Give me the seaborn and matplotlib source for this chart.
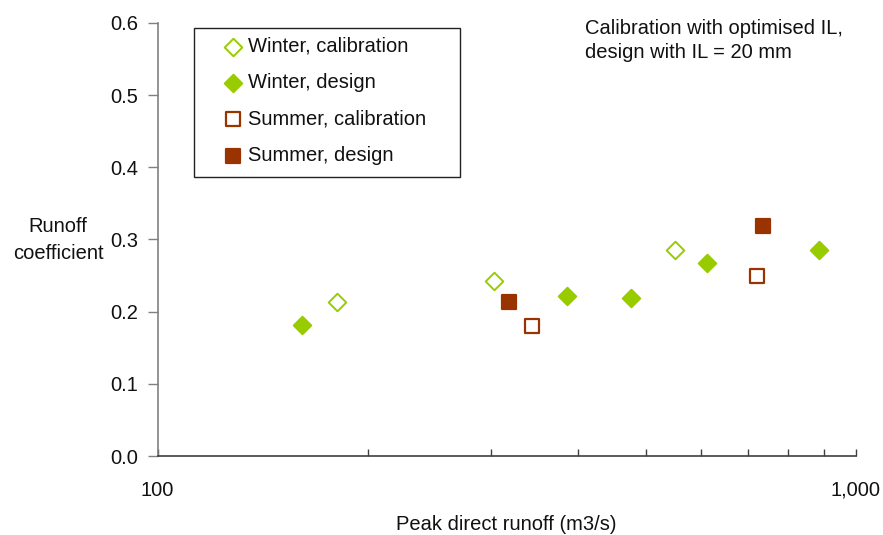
import matplotlib
matplotlib.use("Agg")
import matplotlib.pyplot as plt
import matplotlib.ticker as mticker
from matplotlib.patches import Rectangle
import seaborn as sns
import pandas as pd

# ---- data ----
winter_cal_x = [181, 303, 551]
winter_cal_y = [0.213, 0.243, 0.286]
winter_des_x = [161, 386, 476, 611, 886]
winter_des_y = [0.181, 0.222, 0.219, 0.268, 0.286]
summer_cal_x = [344, 721]
summer_cal_y = [0.180, 0.250]
summer_des_x = [319, 736]
summer_des_y = [0.214, 0.319]

labels = ["Winter, calibration", "Winter, design",
          "Summer, calibration", "Summer, design"]
y_ticks = [0.0, 0.1, 0.2, 0.3, 0.4, 0.5, 0.6]

GREEN = "#99CC00"
BROWN = "#993300"
TXT = "#111111"
FS = 14.5

sns.set_theme(style="white")
plt.rcParams["font.family"] = ["Liberation Sans", "DejaVu Sans"]

fig = plt.figure(figsize=(8.83, 5.35), dpi=100)
W, H = 883, 535
x0, x1, ytop, ybot = 157.5, 856, 23, 456
ax = fig.add_axes([x0 / W, 1 - ybot / H, (x1 - x0) / W, (ybot - ytop) / H])

series = [
    (winter_cal_x, winter_cal_y, labels[0], "D", "white", GREEN, 80, 1.4),
    (winter_des_x, winter_des_y, labels[1], "D", GREEN, GREEN, 80, 1.4),
    (summer_cal_x, summer_cal_y, labels[2], "s", "white", BROWN, 110, 1.6),
    (summer_des_x, summer_des_y, labels[3], "s", BROWN, BROWN, 110, 1.6),
]
for xs, ys, lab, mk, fc, ec, s, lw in series:
    df = pd.DataFrame({"x": xs, "y": ys})
    sns.scatterplot(data=df, x="x", y="y", ax=ax, marker=mk, s=s,
                    facecolor=fc, edgecolor=ec, linewidth=lw, label=lab,
                    zorder=3)

ax.set_xscale("log")
ax.set_xlim(100, 1000)
ax.set_ylim(0, 0.6)
ax.set_yticks(y_ticks)
ax.yaxis.set_major_formatter(mticker.FormatStrFormatter("%.1f"))
ax.xaxis.set_major_locator(mticker.FixedLocator([100, 1000]))
ax.xaxis.set_major_formatter(mticker.FuncFormatter(lambda v, p: f"{int(v):,}"))
ax.xaxis.set_minor_locator(mticker.FixedLocator([200, 300, 400, 500, 600, 700, 800, 900]))
ax.xaxis.set_minor_formatter(mticker.NullFormatter())

for sp in ["top", "right"]:
    ax.spines[sp].set_visible(False)
ax.spines["left"].set_color("#808080")
ax.spines["left"].set_linewidth(1.2)
ax.spines["bottom"].set_color("#404040")
ax.spines["bottom"].set_linewidth(1.2)

ax.tick_params(axis="y", which="major", direction="out", length=7, width=1,
               color="#808080", left=True, labelsize=FS, pad=7, labelcolor=TXT)
ax.tick_params(axis="x", which="both", direction="in", length=5, width=1,
               color="#404040", bottom=True, labelsize=FS, pad=18, labelcolor=TXT)

ax.set_xlabel("Peak direct runoff (m3/s)", fontsize=FS, labelpad=11, color=TXT)
ax.set_ylabel("")
fig.text(58 / W, 1 - 240 / H, "Runoff\ncoefficient", ha="center", va="center",
         fontsize=FS, color=TXT, linespacing=1.55)

fig.text(585 / W, 1 - 19 / H, "Calibration with optimised IL,\ndesign with IL = 20 mm",
         ha="left", va="top", fontsize=FS, color=TXT, linespacing=1.3)

leg = ax.legend(loc="upper left", bbox_to_anchor=(223 / W, 1 - 37 / H),
                bbox_transform=fig.transFigure, frameon=False, fontsize=FS,
                handlelength=1.0, handletextpad=0.25, labelspacing=0.86,
                borderpad=0, borderaxespad=0, markerscale=1.0)
for t in leg.get_texts():
    t.set_color(TXT)

fig.patches.append(Rectangle((194 / W, 1 - 177 / H), (460 - 194) / W, (177 - 28) / H,
                             transform=fig.transFigure, fill=False,
                             edgecolor="#222222", linewidth=1.0, figure=fig))

fig.savefig("out.png", dpi=100)
